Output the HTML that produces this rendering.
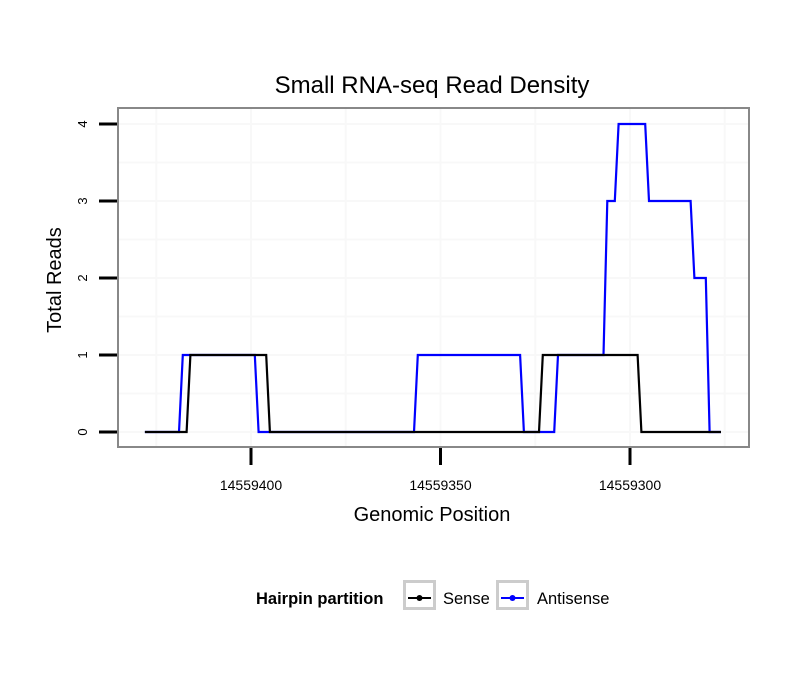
<!DOCTYPE html>
<html><head><meta charset="utf-8"><style>
body{margin:0;background:#fff;}
svg{display:block;font-family:"Liberation Sans",sans-serif;}
</style></head><body>
<svg id="chart" width="810" height="690">
<rect width="810" height="690" fill="#fff"/>
<text x="432" y="93" font-size="24" text-anchor="middle">Small RNA-seq Read Density</text>
<g id="grid"></g>
<g id="series"></g>
<rect x="118" y="108" width="631" height="339" fill="none" stroke="#888" stroke-width="2"/>
<g id="axes"></g>
<text x="432" y="521" font-size="20" text-anchor="middle">Genomic Position</text>
<text transform="translate(61,280) rotate(-90)" font-size="20" text-anchor="middle">Total Reads</text>
<g>
<text x="256" y="604" font-size="16.5" font-weight="bold">Hairpin partition</text>
<g>
<rect x="404.5" y="581.5" width="30" height="27" fill="#fff" stroke="#ccc" stroke-width="3"/>
<line x1="408" y1="598" x2="431" y2="598" stroke="#000" stroke-width="2"/>
<circle cx="419.5" cy="598" r="3" fill="#000"/>
<text x="443" y="604" font-size="16.5">Sense</text>
</g>
<g>
<rect x="497.5" y="581.5" width="30" height="27" fill="#fff" stroke="#ccc" stroke-width="3"/>
<line x1="501" y1="598" x2="524" y2="598" stroke="#00f" stroke-width="2"/>
<circle cx="512.5" cy="598" r="3" fill="#00f"/>
<text x="537" y="604" font-size="16.5">Antisense</text>
</g>
</g>
</svg>
<script>
const senseX=[14559428,14559417,14559416,14559396,14559395,14559324,14559323,14559298,14559297,14559276];
const senseY=[0,0,1,1,0,0,1,1,0,0];
const antiX=[14559428,14559419,14559418,14559399,14559398,14559357,14559356,14559329,14559328,14559320,14559319,14559307,14559306,14559304,14559303,14559296,14559295,14559284,14559283,14559280,14559279,14559276];
const antiY=[0,0,1,1,0,0,1,1,0,0,1,1,3,3,4,4,3,3,2,2,0,0];
const xTicks=[14559400,14559350,14559300];
const yTicks=[0,1,2,3,4];
const NS="http://www.w3.org/2000/svg";
function xs(v){return 251+(14559400-v)*3.79;}
function ys(v){return 432-v*77;}
function mk(t,a,p){const e=document.createElementNS(NS,t);for(const k in a)e.setAttribute(k,a[k]);p.appendChild(e);return e;}
const grid=document.getElementById('grid'),axes=document.getElementById('axes'),ser=document.getElementById('series');
for(let v=-0.5;v<=4.5;v+=0.5){const y=ys(v);if(y<109||y>446)continue;
const l=mk('line',{x1:119,x2:748,y1:y,y2:y,stroke:'#f8f8f8','stroke-width':2},grid);

}
for(let v=14559450;v>=14559250;v-=25){const x=xs(v);if(x<119||x>748)continue;
const l=mk('line',{x1:x,x2:x,y1:109,y2:446,stroke:'#f8f8f8','stroke-width':2},grid);

}
yTicks.forEach(v=>{const y=ys(v);
const t=mk('line',{x1:99,x2:117,y1:y,y2:y,stroke:'#000','stroke-width':3},axes);


const tx=mk('text',{transform:`translate(87,${y}) rotate(-90)`,'font-size':13,'text-anchor':'middle'},axes);
tx.textContent=v;

});
xTicks.forEach(v=>{const x=xs(v);
const t=mk('line',{x1:x,x2:x,y1:448,y2:465,stroke:'#000','stroke-width':3},axes);


const tx=mk('text',{x:x,y:490,'font-size':14,'text-anchor':'middle'},axes);
tx.textContent=v;

});
function line(X,Y,c,name){const d=X.map((x,i)=>(i?'L':'M')+xs(x).toFixed(1)+','+ys(Y[i]).toFixed(1)).join('');
const p=mk('path',{d:d,fill:'none',stroke:c,'stroke-width':2.2},ser);

}
line(antiX,antiY,'#00f','antisense-line');
line(senseX,senseY,'#000','sense-line');
</script>
</body></html>
